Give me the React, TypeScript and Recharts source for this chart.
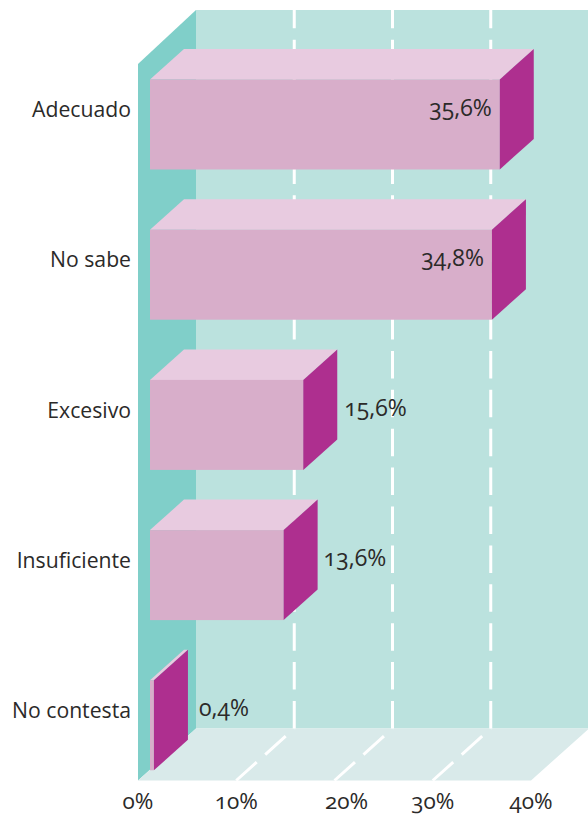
import React from 'react';
import { BarChart, Bar, XAxis, YAxis, LabelList, usePlotArea } from 'recharts';

const categories = ['Adecuado', 'No sabe', 'Excesivo', 'Insuficiente', 'No contesta'];
const percentages = [35.6, 34.8, 15.6, 13.6, 0.4];
const valueLabels = ['35,6%', '34,8%', '15,6%', '13,6%', '0,4%'];
const axisTicks = [0, 10, 20, 30, 40];
const axisTickShift = [0, 0, 12, 0, 0]; // the 20% label sits off its line in the original

const rows = categories.map((name, i) => ({ name, value: percentages[i], label: valueLabels[i] }));

const FONT = '"Open Sans", sans-serif';
const TEXT = '#2b2a29';
const MAX = 40;
const BAR_DX = 34;
const BAR_DY = 30.5;
const WALL_INSET = 12;
const WALL_DX = 58;
const WALL_DY = 52;
const WALL_TOP = 10;
const labelGap = [8, 8, 7, 6, 11];

const Room = () => {
  const plot = usePlotArea();
  if (!plot) return null;
  const x0 = plot.x - WALL_INSET;
  const unit = plot.width / MAX;
  const floorY = 780.5;
  const backY = floorY - WALL_DY;
  const pts = (a: number[][]) => a.map((p) => p.join(',')).join(' ');
  return (
    <g>
      <polygon
        fill="#bbe2de"
        points={pts([[x0 + WALL_DX, WALL_TOP], [x0 + WALL_DX + MAX * unit, WALL_TOP], [x0 + WALL_DX + MAX * unit, backY], [x0 + WALL_DX, backY]])}
      />
      <polygon
        fill="#80cfc9"
        points={pts([[x0, WALL_TOP + 54], [x0 + WALL_DX, WALL_TOP], [x0 + WALL_DX, backY], [x0, floorY]])}
      />
      <polygon
        fill="#d9eaea"
        points={pts([[x0, floorY], [x0 + WALL_DX, backY], [x0 + WALL_DX + MAX * unit, backY], [x0 + MAX * unit, floorY]])}
      />
      {axisTicks.slice(1, -1).map((t) => {
        const fx = x0 + t * unit;
        return (
          <g key={t} stroke="#fff" strokeWidth={3} fill="none">
            <line x1={fx + WALL_DX} y1={backY} x2={fx + WALL_DX} y2={WALL_TOP} strokeDasharray="27.5 11.4" />
            <line x1={fx} y1={floorY} x2={fx + WALL_DX} y2={backY} strokeDasharray="27.5 11.4" />
          </g>
        );
      })}
    </g>
  );
};

const Box3D = (props: any) => {
  const { x, y, width, height } = props;
  const r = x + width;
  const b = y + height;
  const pts = (a: number[][]) => a.map((p) => p.join(',')).join(' ');
  return (
    <g>
      <polygon fill="#e8cbe0" points={pts([[x, y], [x + BAR_DX, y - BAR_DY], [r + BAR_DX, y - BAR_DY], [r, y]])} />
      <rect x={x} y={y} width={width} height={height} fill="#d8aeca" />
      <polygon fill="#ae2f8f" points={pts([[r, y], [r + BAR_DX, y - BAR_DY], [r + BAR_DX, b - BAR_DY], [r, b]])} />
    </g>
  );
};

const ValueLabel = (props: any) => {
  const { x, y, width, height, index } = props;
  const inside = percentages[index] > 30;
  const r = x + width;
  return (
    <text
      x={inside ? r - labelGap[index] : r + BAR_DX + labelGap[index]}
      y={y + height / 2 - 18}
      textAnchor={inside ? 'end' : 'start'}
      dominantBaseline="central"
      fontFamily={FONT}
      fontSize={23}
      fill={TEXT}
      style={{ fontFeatureSettings: '"onum"' }}
    >
      {valueLabels[index]}
    </text>
  );
};

const CategoryTick = (props: any) => {
  const { y, payload } = props;
  return (
    <text x={131} y={y - 16} textAnchor="end" dominantBaseline="central" fontFamily={FONT} fontSize={21.2} fill={TEXT}>
      {payload.value}
    </text>
  );
};

const PercentTick = (props: any) => {
  const { x, payload, index } = props;
  return (
    <text
      x={x - WALL_INSET + axisTickShift[index]}
      y={800}
      textAnchor="middle"
      dominantBaseline="central"
      fontFamily={FONT}
      fontSize={22.5}
      fill={TEXT}
      style={{ fontFeatureSettings: '"onum"' }}
    >
      {payload.value}%
    </text>
  );
};

export default function App() {
  return (
    <div style={{ position: 'absolute', left: 0, top: 0 }}>
      <BarChart
        width={588}
        height={815}
        data={rows}
        layout="vertical"
        margin={{ top: 49.5, right: 45, left: 0, bottom: 0 }}
        barCategoryGap={60}
      >
        <Room />
        <XAxis
          type="number"
          domain={[0, MAX]}
          ticks={axisTicks}
          height={14.5}
          axisLine={false}
          tickLine={false}
          interval={0}
          tick={<PercentTick />}
        />
        <YAxis
          type="category"
          dataKey="name"
          width={150}
          axisLine={false}
          tickLine={false}
          interval={0}
          tick={<CategoryTick />}
        />
        <Bar dataKey="value" barSize={90} isAnimationActive={false} shape={<Box3D />}>
          <LabelList dataKey="label" content={<ValueLabel />} />
        </Bar>
      </BarChart>
    </div>
  );
}
